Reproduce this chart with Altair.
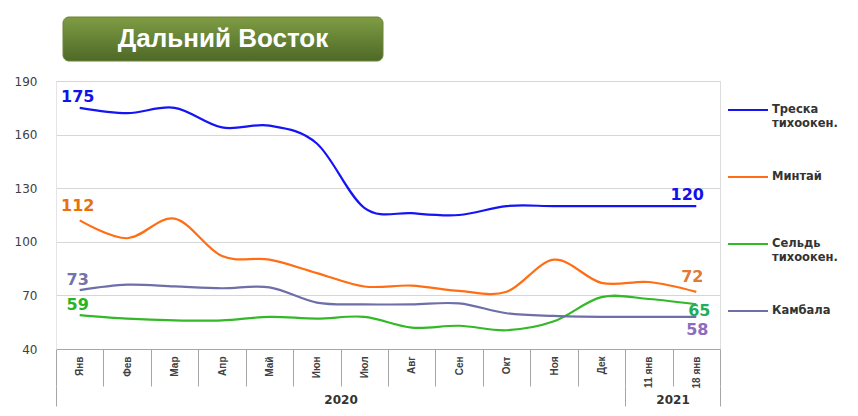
import altair as alt
import pandas as pd

# ---------------- data ----------------
cats = ["Янв", "Фев", "Мар", "Апр", "Май", "Июн", "Июл", "Авг", "Сен", "Окт",
        "Ноя", "Дек", "11 янв", "18 янв"]
series_names = ["Треска тихоокен.", "Минтай", "Сельдь тихоокен.", "Камбала"]
treska = [175, 172, 175, 164, 165, 155, 119, 116, 115, 120, 120, 120, 120, 120]
mintai = [112, 102, 113, 92, 90, 82.5, 75, 75.5, 72.5, 72, 90, 77, 77.5, 72]
seld = [59, 57, 56, 56, 58, 57, 58, 52, 53, 50.5, 55.5, 69, 68, 65]
kambala = [73, 76, 75, 74, 74.5, 66, 65, 65, 65.5, 60, 58.5, 58, 58, 58]
years = ["2020", "2021"]
year_counts = [12, 2]
y_ticks = [40, 70, 100, 130, 160, 190]
title_text = "Дальний Восток"

# ---------------- tables ----------------
rows = []
for s, vals in zip(series_names, [treska, mintai, seld, kambala]):
    for i, (c, v) in enumerate(zip(cats, vals)):
        rows.append({"series": s, "cat": c, "idx": i, "value": v})
df = pd.DataFrame(rows)

bounds = [0]
for n in year_counts:
    bounds.append(bounds[-1] + n)
mids = [(a + b) / 2 for a, b in zip(bounds[:-1], bounds[1:])]
year_df = pd.DataFrame({"pos": bounds})
mid_test = " || ".join(f"datum.value == {m}" for m in mids)
label_expr = " : ".join(f"datum.value == {m} ? '{y}'" for m, y in zip(mids, years)) + " : ''"

title_df = pd.DataFrame({"title": [title_text]})

# ---------------- styles ----------------
line_colors = ["#1414f5", "#ff6e14", "#33b828", "#6e6ea8"]
FONT = "DejaVu Sans"

xscale = alt.Scale(type="band", domain=cats, paddingInner=0, paddingOuter=0)
xaxis = alt.Axis(title=None, labelAngle=270, tickBand="extent", tickSize=37,
                 tickColor="#a6a6a6", domainColor="#a6a6a6", labelPadding=-30,
                 labelFont="Liberation Sans", labelFontWeight="bold",
                 labelFontSize=10, labelColor="#404040", grid=False)
yenc = alt.Y("value:Q", scale=alt.Scale(domain=[40, 190], nice=False, zero=False),
             axis=alt.Axis(title=None, values=y_ticks, tickSize=0, labelPadding=19,
                           gridColor="#d6d6d6", domainColor="#e4e4e4",
                           labelFont=FONT, labelFontSize=12, labelColor="#404040"))

lines = alt.Chart(df).mark_line(interpolate="cardinal", strokeWidth=2.2).encode(
    x=alt.X("cat:N", sort=cats, scale=xscale, axis=xaxis),
    y=yenc,
    color=alt.Color("series:N",
                    scale=alt.Scale(domain=series_names, range=line_colors),
                    legend=alt.Legend(title=None, orient="none", legendX=671, legendY=8,
                                      symbolType="stroke", symbolSize=1600,
                                      symbolStrokeWidth=2, labelFont=FONT,
                                      labelFontWeight="bold", labelFontSize=11.5,
                                      labelColor="#333333", labelOffset=3,
                                      labelExpr="split(datum.label, ' ')",
                                      labelLimit=300, rowPadding=27, padding=0,
                                      gridAlign="all")),
    detail="series:N",
)

label_styles = [
    ("Треска тихоокен.", 0, "#1212e8", -2, -11),
    ("Минтай", 0, "#e8700f", -2, -14),
    ("Камбала", 0, "#7272ad", -2, -10),
    ("Сельдь тихоокен.", 0, "#25b525", -2, -10),
    ("Треска тихоокен.", 13, "#1212e8", -9, -11),
    ("Минтай", 13, "#e07a35", -4, -15),
    ("Сельдь тихоокен.", 13, "#1fae5e", 3, 7),
    ("Камбала", 13, "#8a6cc0", 1, 13),
]
label_layers = []
for s, i, col, dx, dy in label_styles:
    label_layers.append(
        alt.Chart(df).transform_filter(
            (alt.datum.series == s) & (alt.datum.idx == i)
        ).mark_text(font=FONT, fontWeight="bold", fontSize=16, dx=dx, dy=dy,
                    color=col, baseline="middle").encode(
            x=alt.X("cat:N", sort=cats, scale=xscale, axis=xaxis),
            y=yenc,
            text="value:Q",
        )
    )

main = alt.layer(lines, *label_layers)

year_layer = alt.Chart(year_df).mark_point(opacity=0).encode(
    x=alt.X("pos:Q", scale=alt.Scale(domain=[bounds[0], bounds[-1]], nice=False, zero=False),
            axis=alt.Axis(title=None, orient="bottom", offset=37, tickSize=20,
                          values=sorted(bounds + mids), domain=False, grid=False,
                          labelExpr=label_expr, labelOverlap=False, labelFlush=False,
                          tickColor="#a6a6a6",
                          tickOpacity={"condition": {"test": mid_test, "value": 0}, "value": 1},
                          labelPadding=-12, labelFont=FONT, labelFontWeight="bold",
                          labelFontSize=12, labelColor="#333333")),
    y=alt.value(0),
)

box = alt.Chart(title_df).mark_rect(
    cornerRadius=6,
    color={"gradient": "linear", "x1": 0, "y1": 0, "x2": 0, "y2": 1,
           "stops": [{"offset": 0, "color": "#7f9c44"}, {"offset": 1, "color": "#4d6927"}]},
    stroke="#6a8534", strokeWidth=1,
).encode(x=alt.value(7), x2=alt.value(327), y=alt.value(-64), y2=alt.value(-20))

title_txt = alt.Chart(title_df).mark_text(
    font="Liberation Sans", fontWeight="bold", fontSize=26, color="white",
    align="center", baseline="middle",
).encode(x=alt.value(167), y=alt.value(-42), text="title:N")

chart = alt.layer(main, year_layer, box, title_txt).resolve_scale(
    x="independent"
).properties(
    width=664, height=268,
    padding={"left": 48, "top": 73, "right": 130, "bottom": 60},
    autosize=alt.AutoSizeParams(type="none"),
).configure_view(stroke=None).configure(background="white")

chart.save("out.html", embed_options={"renderer": "svg", "actions": False})
